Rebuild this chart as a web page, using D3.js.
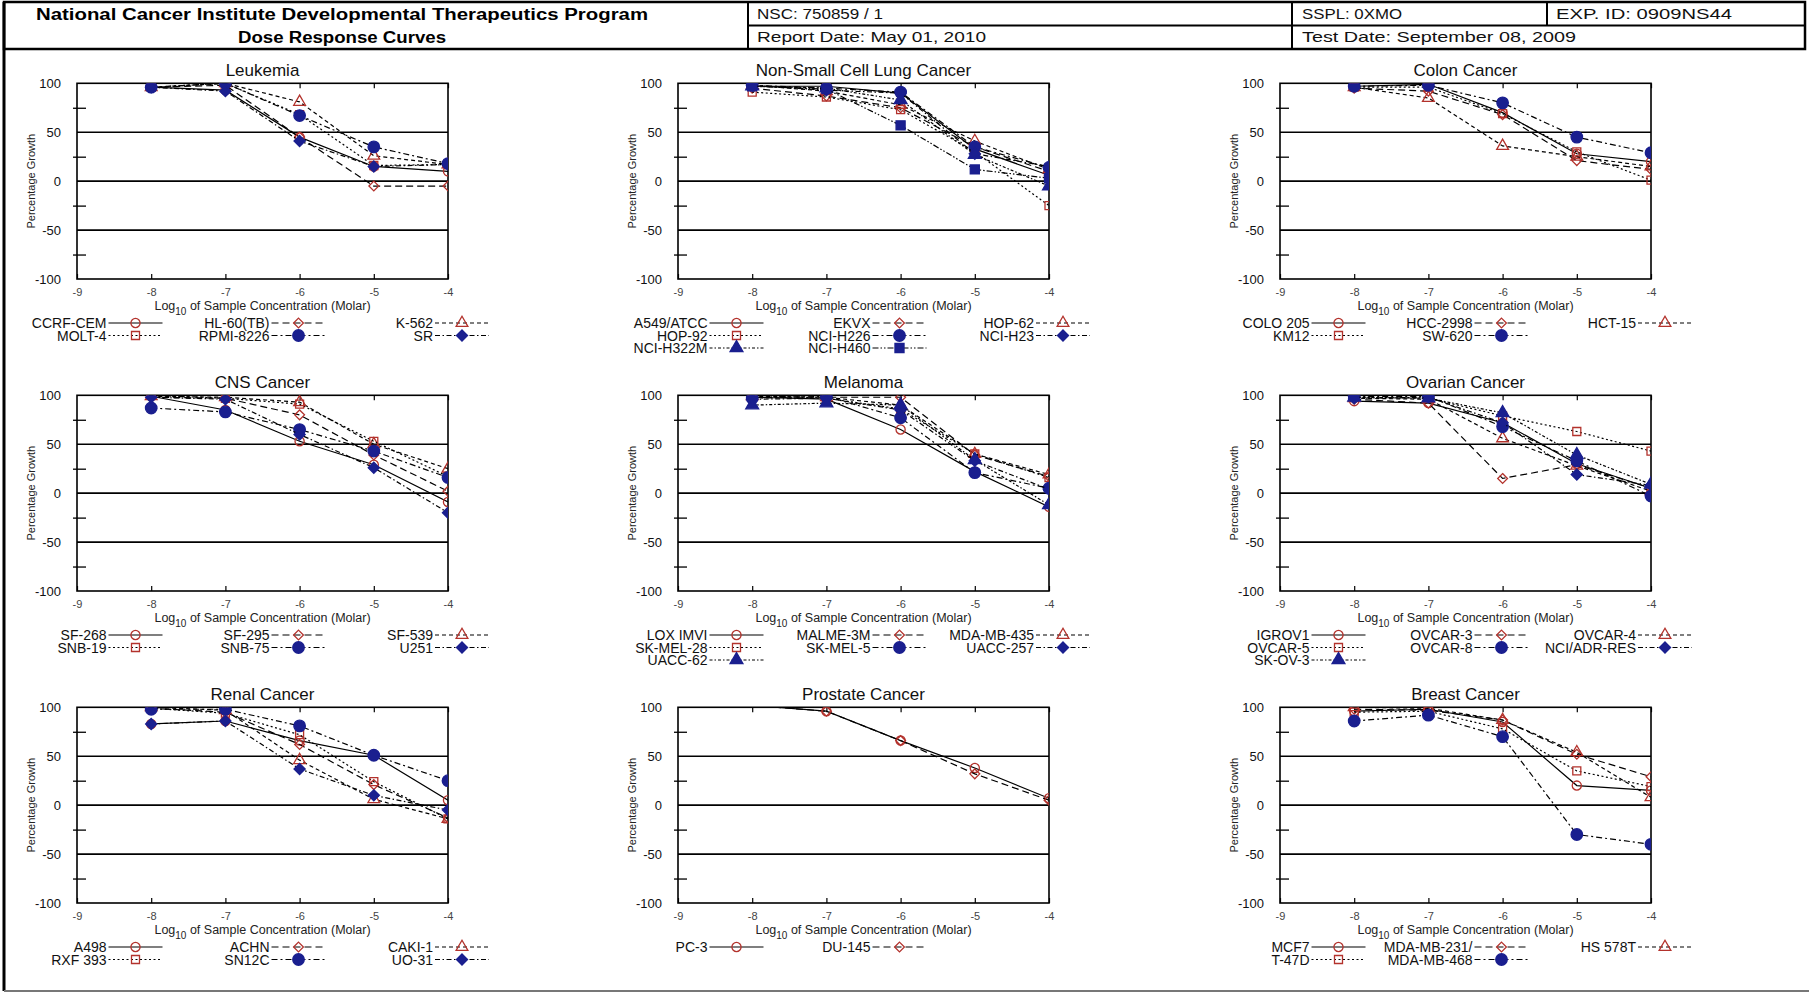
<!DOCTYPE html>
<html>
<head>
<meta charset="utf-8">
<script src="https://cdn.jsdelivr.net/npm/d3@7"></script>
<style>
  html, body { margin: 0; padding: 0; background: #fff; }
  svg { display: block; font-family: "Liberation Sans", Arial, Helvetica, sans-serif; }
</style>
</head>
<body>
<svg id="page" width="1809" height="993"></svg>
<script>
// ---- Dose levels and axis ticks ----
const concentrations = [-8, -7, -6, -5, -4];
const xTickValues = [-9, -8, -7, -6, -5, -4];
const yTickValues = [-100, -50, 0, 50, 100];
const yMinorTicks = [-75, -25, 25, 75];
const yRuleValues = [-50, 0, 50];

// ---- Report header ----
const headerTitle = ["National Cancer Institute Developmental Therapeutics Program", "Dose Response Curves"];
const headerNsc = "NSC: 750859 / 1";
const headerReportDate = "Report Date: May 01, 2010";
const headerSspl = "SSPL: 0XMO";
const headerExpId = "EXP. ID: 0909NS44";
const headerTestDate = "Test Date: September 08, 2009";

// ---- Panels: cell line names and percentage growth at each dose ----
const panelTitles = ["Leukemia", "Non-Small Cell Lung Cancer", "Colon Cancer",
                     "CNS Cancer", "Melanoma", "Ovarian Cancer",
                     "Renal Cancer", "Prostate Cancer", "Breast Cancer"];

const leukemiaLines = ["CCRF-CEM", "HL-60(TB)", "K-562", "MOLT-4", "RPMI-8226", "SR"];
const leukemiaGrowth = [
  [96, 93, 45, 15, 10],
  [96, 98, 45, -5, -5],
  [96, 100, 81, 26, 17],
  [96, 100, 68, 16, 17],
  [96, 100, 67, 35, 18],
  [96, 92, 41, 15, 17]
];

const lungLines = ["A549/ATCC", "EKVX", "HOP-62", "HOP-92", "NCI-H226", "NCI-H23", "NCI-H322M", "NCI-H460"];
const lungGrowth = [
  [97, 97, 90, 33, 6],
  [95, 87, 75, 35, 10],
  [98, 92, 78, 41, 12],
  [91, 86, 73, 30, -25],
  [98, 95, 91, 35, 14],
  [98, 93, 90, 28, 15],
  [97, 95, 83, 27, -5],
  [97, 94, 57, 12, 3]
];

const colonLines = ["COLO 205", "HCC-2998", "HCT-15", "KM12", "SW-620"];
const colonGrowth = [
  [97, 99, 70, 28, 20],
  [95, 92, 68, 21, 12],
  [96, 85, 36, 25, 15],
  [96, 96, 69, 30, 1],
  [97, 98, 80, 45, 29]
];

const cnsLines = ["SF-268", "SF-295", "SF-539", "SNB-19", "SNB-75", "U251"];
const cnsGrowth = [
  [99, 85, 53, 29, -9],
  [98, 97, 80, 39, 2],
  [99, 98, 93, 50, 25],
  [100, 97, 91, 53, 17],
  [87, 83, 65, 43, 16],
  [98, 96, 60, 26, -20]
];

const melanomaLines = ["LOX IMVI", "MALME-3M", "MDA-MB-435", "SK-MEL-28", "SK-MEL-5", "UACC-257", "UACC-62"];
const melanomaGrowth = [
  [98, 96, 65, 22, -14],
  [98, 98, 98, 39, 17],
  [99, 98, 90, 40, 19],
  [100, 97, 86, 40, 16],
  [97, 99, 77, 21, 5],
  [96, 97, 85, 33, 4],
  [90, 92, 90, 34, -12]
];

const ovarianLines = ["IGROV1", "OVCAR-3", "OVCAR-4", "OVCAR-5", "OVCAR-8", "NCI/ADR-RES", "SK-OV-3"];
const ovarianGrowth = [
  [94, 92, 72, 30, 5],
  [96, 92, 15, 29, 5],
  [97, 96, 56, 28, 2],
  [98, 97, 79, 63, 43],
  [99, 99, 68, 33, -3],
  [97, 98, 72, 19, 8],
  [98, 97, 82, 39, 9]
];

const renalLines = ["A498", "ACHN", "CAKI-1", "RXF 393", "SN12C", "UO-31"];
const renalGrowth = [
  [83, 86, 66, 51, 5],
  [99, 95, 62, 21, -13],
  [100, 97, 46, 6, -14],
  [99, 94, 72, 24, -14],
  [98, 98, 81, 51, 25],
  [83, 86, 37, 10, -5]
];

const prostateLines = ["PC-3", "DU-145"];
const prostateGrowth = [
  [102, 96, 66, 38, 7],
  [102, 96, 66, 32, 5]
];

const breastLines = ["MCF7", "MDA-MB-231/", "HS 578T", "T-47D", "MDA-MB-468"];
const breastGrowth = [
  [96, 98, 85, 20, 15],
  [98, 97, 87, 52, 29],
  [100, 99, 87, 54, 8],
  [95, 96, 78, 35, 19],
  [86, 92, 70, -30, -40]
];

const panels = [
  { title: panelTitles[0], lines: leukemiaLines, growth: leukemiaGrowth },
  { title: panelTitles[1], lines: lungLines, growth: lungGrowth },
  { title: panelTitles[2], lines: colonLines, growth: colonGrowth },
  { title: panelTitles[3], lines: cnsLines, growth: cnsGrowth },
  { title: panelTitles[4], lines: melanomaLines, growth: melanomaGrowth },
  { title: panelTitles[5], lines: ovarianLines, growth: ovarianGrowth },
  { title: panelTitles[6], lines: renalLines, growth: renalGrowth },
  { title: panelTitles[7], lines: prostateLines, growth: prostateGrowth },
  { title: panelTitles[8], lines: breastLines, growth: breastGrowth }
];

// a square turned 45 degrees (equal width and height)
const symbolRhombus = {
  draw(context, size) {
    const r = Math.sqrt(size / 2);
    context.moveTo(0, -r);
    context.lineTo(r, 0);
    context.lineTo(0, r);
    context.lineTo(-r, 0);
    context.closePath();
  }
};

// ---- Series styles (by position within a panel) ----
const RED = "#b3322c";
const BLUE = "#1a1f8f";
const seriesStyles = [
  { type: d3.symbolCircle,   size: 66, fill: "none", stroke: RED,  dash: null },
  { type: symbolRhombus,     size: 48, fill: "none", stroke: RED,  dash: "7,4" },
  { type: d3.symbolTriangle, size: 60, fill: "none", stroke: RED,  dash: "4,3" },
  { type: d3.symbolSquare,   size: 64, fill: "none", stroke: RED,  dash: "2,2.5" },
  { type: d3.symbolCircle,   size: 104, fill: BLUE, stroke: BLUE, dash: "6,3,2,3" },
  { type: symbolRhombus,     size: 62, fill: BLUE, stroke: BLUE, dash: "5,2.5,1.5,2.5" },
  { type: d3.symbolTriangle, size: 72, fill: BLUE, stroke: BLUE, dash: "3,2,1.5,2" },
  { type: d3.symbolSquare,   size: 82, fill: BLUE, stroke: BLUE, dash: "6,2,1.5,2,1.5,2" }
];

const svg = d3.select("#page");

// ---- Page frame and header table ----
svg.append("line").attr("x1", 4).attr("x2", 4).attr("y1", 2).attr("y2", 991)
  .attr("stroke", "#000").attr("stroke-width", 3);
svg.append("line").attr("x1", 4).attr("x2", 1809).attr("y1", 991).attr("y2", 991)
  .attr("stroke", "#777").attr("stroke-width", 2);

const head = svg.append("g");
head.append("rect").attr("x", 4).attr("y", 2).attr("width", 1801).attr("height", 47)
  .attr("fill", "none").attr("stroke", "#000").attr("stroke-width", 2.5);
[[748, 2, 748, 49], [748, 25.5, 1805, 25.5], [1292, 2, 1292, 49], [1547, 2, 1547, 25.5]]
  .forEach(([x1, y1, x2, y2]) => head.append("line")
    .attr("x1", x1).attr("y1", y1).attr("x2", x2).attr("y2", y2)
    .attr("stroke", "#000").attr("stroke-width", 2));

const headFont = '"Liberation Sans Narrow", "Liberation Sans", Arial, sans-serif';
head.append("text").attr("x", 342).attr("y", 20).attr("text-anchor", "middle")
  .attr("font-family", headFont).attr("font-weight", "bold").attr("font-size", 16)
  .attr("textLength", 612).attr("lengthAdjust", "spacingAndGlyphs").text(headerTitle[0]);
head.append("text").attr("x", 342).attr("y", 43).attr("text-anchor", "middle")
  .attr("font-family", headFont).attr("font-weight", "bold").attr("font-size", 16)
  .attr("textLength", 208).attr("lengthAdjust", "spacingAndGlyphs").text(headerTitle[1]);

[[headerNsc, 757, 19, 126], [headerReportDate, 757, 42, 229],
 [headerSspl, 1302, 19, 100], [headerExpId, 1556, 19, 176],
 [headerTestDate, 1302, 42, 274]].forEach(([t, x, y, len]) =>
  head.append("text").attr("x", x).attr("y", y)
    .attr("font-family", headFont).attr("font-size", 15).attr("fill", "#111")
    .attr("textLength", len).attr("lengthAdjust", "spacingAndGlyphs").text(t));

// ---- Panel grid ----
const colLeft = [77, 678, 1280];
const rowTop = [83.3, 395.3, 707.3];
const plotW = 371;
const plotH = 195.7;

// legend slots: three columns, filled row by row
const legendTextRight = [29.5, 192.5, 356];
const legendRowOffset = [49, 61.5, 74];
const legendLineLen = 54;

const fmt = d => String(d);

panels.forEach((p, i) => {
  const left = colLeft[i % 3];
  const top = rowTop[Math.floor(i / 3)];
  const bottom = top + plotH;
  const right = left + plotW;

  const x = d3.scaleLinear().domain([-9, -4]).range([left, right]);
  const y = d3.scaleLinear().domain([-100, 100]).range([bottom, top]);

  const g = svg.append("g");
  const clipId = "clip" + i;
  g.append("clipPath").attr("id", clipId)
    .append("rect").attr("x", left).attr("y", top).attr("width", plotW).attr("height", plotH);

  // title
  g.append("text").attr("x", (left + right) / 2).attr("y", top - 7)
    .attr("text-anchor", "middle").attr("font-size", 17).attr("fill", "#111")
    .text(p.title);

  // horizontal rules at 50, 0, -50
  g.selectAll(".rule").data(yRuleValues).enter().append("line")
    .attr("x1", left).attr("x2", right)
    .attr("y1", d => y(d)).attr("y2", d => y(d))
    .attr("stroke", "#000").attr("stroke-width", 1.6);

  // y axis labels
  const yAxis = g.append("g").attr("transform", `translate(${left},0)`)
    .call(d3.axisLeft(y).tickValues(yTickValues).tickSize(0).tickPadding(16).tickFormat(fmt));
  yAxis.select(".domain").remove();
  yAxis.selectAll("text").attr("font-size", 13).attr("fill", "#111")
    .attr("font-family", '"Liberation Sans", Arial, sans-serif');

  // y minor ticks
  const yMinor = g.append("g").attr("transform", `translate(${left},0)`)
    .call(d3.axisLeft(y).tickValues(yMinorTicks).tickSizeInner(-9).tickSizeOuter(0).tickFormat(""));
  yMinor.select(".domain").remove();
  yMinor.selectAll(".tick line").attr("x1", -4).attr("stroke-width", 1.3);

  // x axis (bottom) with inward ticks
  const xAxis = g.append("g").attr("transform", `translate(0,${bottom})`)
    .call(d3.axisBottom(x).tickValues(xTickValues).tickSizeInner(-5).tickSizeOuter(0)
      .tickPadding(9).tickFormat(fmt));
  xAxis.select(".domain").remove();
  xAxis.selectAll(".tick line").attr("stroke-width", 1.2);
  xAxis.selectAll("text").attr("font-size", 11).attr("fill", "#444")
    .attr("font-family", '"Liberation Sans", Arial, sans-serif');

  // x ticks along the top edge
  const xTop = g.append("g").attr("transform", `translate(0,${top})`)
    .call(d3.axisTop(x).tickValues(concentrations).tickSizeInner(-5).tickSizeOuter(0).tickFormat(""));
  xTop.select(".domain").remove();
  xTop.selectAll(".tick line").attr("stroke-width", 1.2);

  // plot frame
  g.append("rect").attr("x", left).attr("y", top).attr("width", plotW).attr("height", plotH)
    .attr("fill", "none").attr("stroke", "#000").attr("stroke-width", 1.6);

  // axis titles
  g.append("text")
    .attr("transform", `translate(${left - 42},${(top + bottom) / 2}) rotate(-90)`)
    .attr("text-anchor", "middle").attr("font-size", 11).attr("fill", "#222")
    .text("Percentage Growth");

  const xt = g.append("text").attr("x", (left + right) / 2).attr("y", bottom + 31)
    .attr("text-anchor", "middle").attr("font-size", 12.5).attr("fill", "#222");
  xt.append("tspan").text("Log");
  xt.append("tspan").attr("dy", 5).attr("font-size", 10).text("10");
  xt.append("tspan").attr("dy", -5).text(" of Sample Concentration (Molar)");

  // dose-response curves
  const line = d3.line().x(d => x(d[0])).y(d => y(d[1]));
  const curves = g.append("g").attr("clip-path", `url(#${clipId})`);
  p.growth.forEach((vals, s) => {
    const st = seriesStyles[s];
    const pts = concentrations.map((c, k) => [c, vals[k]]);
    curves.append("path").attr("d", line(pts))
      .attr("fill", "none").attr("stroke", "#000").attr("stroke-width", 1.2)
      .attr("stroke-dasharray", st.dash);
    curves.selectAll(null).data(pts.filter(d => d[1] <= 100)).enter().append("path")
      .attr("d", d3.symbol().type(st.type).size(st.size))
      .attr("transform", d => `translate(${x(d[0])},${y(d[1])})`)
      .attr("fill", st.fill).attr("stroke", st.stroke).attr("stroke-width", 1.3);
  });

  // legend
  p.lines.forEach((name, s) => {
    const st = seriesStyles[s];
    const col = s % 3, row = Math.floor(s / 3);
    const tx = left + legendTextRight[col];
    const ty = bottom + legendRowOffset[row];
    g.append("text").attr("x", tx).attr("y", ty).attr("text-anchor", "end")
      .attr("font-size", 14).attr("fill", "#111").text(name);
    const lx1 = tx + 2, lx2 = tx + 2 + legendLineLen, ly = ty - 5;
    g.append("line").attr("x1", lx1).attr("x2", lx2).attr("y1", ly).attr("y2", ly)
      .attr("stroke", "#000").attr("stroke-width", 1.2).attr("stroke-dasharray", st.dash);
    g.append("path").attr("d", d3.symbol().type(st.type).size(st.size)())
      .attr("transform", `translate(${(lx1 + lx2) / 2},${ly})`)
      .attr("fill", st.fill).attr("stroke", st.stroke).attr("stroke-width", 1.3);
  });
});
</script>
</body>
</html>
